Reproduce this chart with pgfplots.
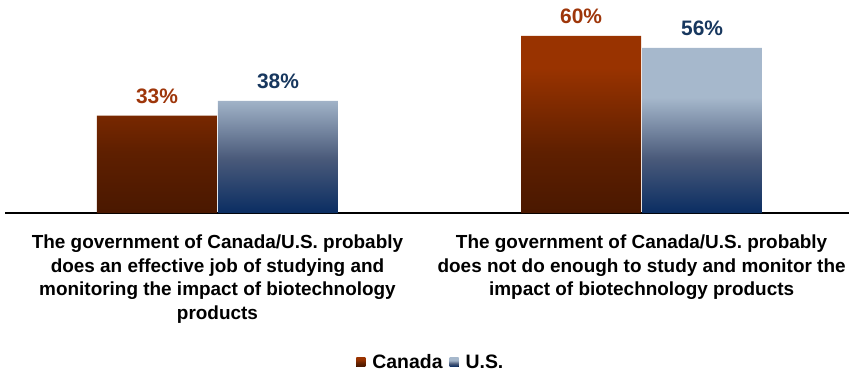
\documentclass[border=0pt]{standalone}
\usepackage{pgfplots}
\pgfplotsset{compat=1.18}
\usepackage{fontspec}
\setmainfont{Liberation Sans}
\definecolor{ctop}{HTML}{993300}
\definecolor{cmid}{HTML}{5E1F00}
\definecolor{cbot}{HTML}{4A1800}
\definecolor{utop}{HTML}{A6B8CC}
\definecolor{umid}{HTML}{4A5A7A}
\definecolor{ubot}{HTML}{0A2D62}
\definecolor{clab}{HTML}{9E360A}
\definecolor{ulab}{HTML}{17375E}
\pgfdeclareverticalshading{canadash}{100bp}{color(0bp)=(cbot); color(25bp)=(cbot); color(42bp)=(cmid); color(66bp)=(ctop); color(100bp)=(ctop)}
\pgfdeclareverticalshading{usash}{100bp}{color(0bp)=(ubot); color(25bp)=(ubot); color(41.5bp)=(umid); color(60bp)=(utop); color(100bp)=(utop)}
\begin{document}
\begin{tikzpicture}
\path[use as bounding box] (0,0) rectangle (849bp,373bp);
\begin{axis}[
  at={(5bp,160bp)}, anchor=south west,
  scale only axis, width=844bp, height=213bp,
  xmin=-0.501, xmax=1.489, ymin=0, ymax=72.2,
  clip=false,
  axis x line*=bottom, hide y axis,
  x axis line style={line width=1.3bp, black},
  xtick={0,1}, major tick length=0,
  xticklabels={{The government of Canada/U.S. probably\\does an effective job of studying and\\monitoring the impact of biotechnology\\products},
               {The government of Canada/U.S. probably\\does not do enough to study and monitor the\\impact of biotechnology products}},
  xticklabel style={align=center, anchor=north, inner sep=0pt, yshift=-22bp,
     font=\fontsize{19}{23.5}\selectfont\bfseries},
  ybar=1bp, bar width=120bp,
  /pgf/number format/assume math mode=true,
  nodes near coords={\pgfmathprintnumber{\pgfplotspointmeta}\%},
  every node near coord/.append style={font=\fontsize{21}{24}\selectfont\bfseries, anchor=south, inner sep=0pt, yshift=12bp},
  legend columns=2,
  legend style={at={(0.504,-0.70)}, anchor=center, draw=none, fill=none,
     font=\fontsize{19.5}{23.5}\selectfont\bfseries,
     /tikz/every odd column/.append style={column sep=6bp},
     /tikz/every even column/.append style={column sep=6bp},
     nodes={inner sep=1pt}},
]
\addplot[draw=none, shading=canadash, shade,
  every node near coord/.append style={text=clab},
  legend image code/.code={\fill[shading=canadash] (0bp,-4.5bp) rectangle (9bp,4.5bp);}]
  coordinates {(0,33) (1,60)};
\addplot[draw=none, shading=usash, shade,
  every node near coord/.append style={text=ulab},
  legend image code/.code={\fill[shading=usash] (0bp,-4.5bp) rectangle (9bp,4.5bp);}]
  coordinates {(0,38) (1,56)};
\legend{Canada, U.S.}
\end{axis}
\end{tikzpicture}
\end{document}
